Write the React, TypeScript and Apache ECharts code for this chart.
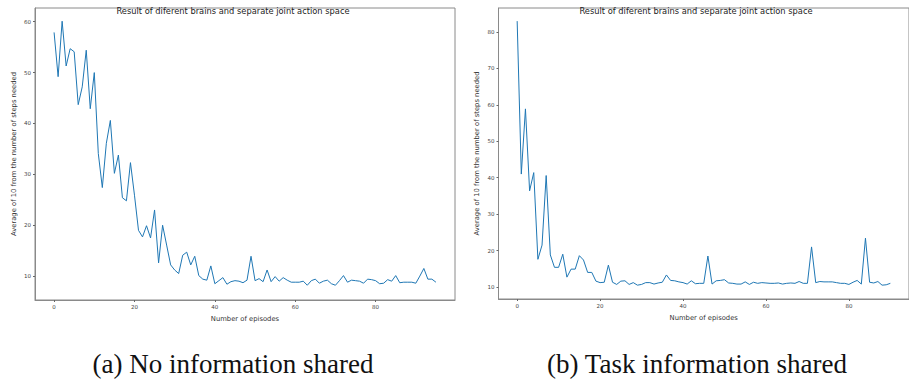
import React, { useEffect, useRef } from "react";
import * as echarts from "echarts";

const noInfoSteps = [
  57.9, 49.2, 60.1, 51.3, 54.7, 54.1, 43.7, 47.2, 54.4, 42.9,
  50.0, 34.1, 27.4, 36.1, 40.6, 30.2, 33.8, 25.4, 24.8, 32.3,
  25.9, 19.0, 17.7, 19.9, 17.5, 23.0, 12.6, 20.0, 16.1, 12.2,
  11.2, 10.5, 14.1, 14.7, 12.2, 13.9, 10.1, 9.4, 9.2, 12.0,
  8.5, 9.1, 9.7, 8.4, 8.9, 9.1, 9.0, 8.7, 9.2, 13.9,
  9.1, 9.5, 8.9, 11.2, 8.9, 9.9, 9.0, 9.7, 9.2, 8.8,
  8.8, 8.8, 9.0, 8.2, 9.1, 9.4, 8.6, 9.0, 9.2, 8.5,
  8.2, 9.1, 10.1, 8.8, 9.2, 9.1, 9.0, 8.6, 9.4, 9.3,
  9.1, 8.5, 8.6, 9.3, 9.0, 10.1, 8.7, 8.8, 8.8, 8.8,
  8.6, 10.0, 11.5, 9.4, 9.4, 8.8,
];

const taskInfoSteps = [
  83.0, 41.0, 58.9, 36.4, 41.4, 17.6, 21.5, 40.6, 18.8, 15.4,
  15.4, 19.0, 12.7, 14.9, 14.9, 18.6, 17.4, 14.0, 14.0, 11.6,
  11.2, 11.3, 16.0, 11.3, 10.7, 11.6, 11.7, 10.7, 11.2, 10.5,
  10.7, 11.2, 11.2, 10.8, 11.1, 11.3, 13.3, 11.8, 11.7, 11.4,
  11.2, 10.8, 11.7, 10.9, 11.0, 11.0, 18.5, 10.8, 11.7, 11.8,
  12.0, 11.1, 11.0, 10.8, 10.8, 11.4, 10.7, 11.3, 11.0, 11.2,
  11.1, 11.0, 11.0, 11.1, 10.8, 11.0, 11.1, 11.0, 11.5, 11.0,
  11.0, 21.0, 11.2, 11.5, 11.4, 11.4, 11.4, 11.2, 11.0, 11.0,
  10.7, 11.3, 11.8, 10.8, 23.4, 11.3, 11.1, 11.5, 10.5, 10.6,
  11.0,
];

const xTicks = [0, 20, 40, 60, 80];
const yTicksLeft = [10, 20, 30, 40, 50, 60];
const yTicksRight = [10, 20, 30, 40, 50, 60, 70, 80];
const chartTitle = "Result of diferent brains and separate joint action space";
const xName = "Number of episodes";
const yName = "Average of 10 from the number of steps needed";
const captions = ["(a) No information shared", "(b) Task information shared"];

const SPINE = "#8a8a8a";
const LINE = "#1f77b4";

function toPairs(values: number[]) {
  return values.map((v, i) => [i, v]);
}

function makeXAxis(gridIndex: number, min: number, max: number) {
  return {
    type: "value",
    gridIndex,
    min,
    max,
    name: xName,
    nameLocation: "middle",
    nameGap: 15,
    nameTextStyle: { fontSize: 6.8, color: "#333", fontFamily: "DejaVu Sans" },
    axisLine: { show: true, onZero: false, lineStyle: { color: SPINE, width: 1 } },
    axisTick: { show: true, length: 2, customValues: xTicks, lineStyle: { color: "#666" } },
    axisLabel: {
      show: true,
      customValues: xTicks,
      fontSize: 5.5,
      color: "#444",
      margin: 4,
      fontFamily: "DejaVu Sans",
    },
    splitLine: { show: false },
  };
}

function makeYAxis(gridIndex: number, min: number, max: number, ticks: number[]) {
  return {
    type: "value",
    gridIndex,
    min,
    max,
    name: yName,
    nameLocation: "middle",
    nameGap: 18,
    nameTextStyle: { fontSize: 6.8, color: "#333", fontFamily: "DejaVu Sans" },
    axisLine: { show: true, onZero: false, lineStyle: { color: SPINE, width: 1 } },
    axisTick: { show: true, length: 2, customValues: ticks, lineStyle: { color: "#666" } },
    axisLabel: {
      show: true,
      customValues: ticks,
      fontSize: 5.5,
      color: "#444",
      margin: 4,
      fontFamily: "DejaVu Sans",
    },
    splitLine: { show: false },
  };
}

export default function App() {
  const ref = useRef<HTMLDivElement>(null);

  useEffect(() => {
    if (!ref.current) return;
    const chart = echarts.init(ref.current, undefined, { renderer: "svg" });
    chart.setOption({
      animation: false,
      backgroundColor: "#ffffff",
      grid: [
        { left: 35, top: 8, width: 420, height: 292, show: true, borderColor: SPINE, borderWidth: 1, backgroundColor: "transparent" },
        { left: 498.5, top: 8, width: 419, height: 291, show: true, borderColor: SPINE, borderWidth: 1, backgroundColor: "transparent" },
      ],
      xAxis: [makeXAxis(0, -4.75, 99.75), makeXAxis(1, -4.5, 94.5)],
      yAxis: [makeYAxis(0, 5.3, 62.7, yTicksLeft), makeYAxis(1, 6.7, 86.6, yTicksRight)],
      series: [
        {
          type: "line",
          xAxisIndex: 0,
          yAxisIndex: 0,
          data: toPairs(noInfoSteps),
          symbol: "none",
          lineStyle: { color: LINE, width: 1 },
        },
        {
          type: "line",
          xAxisIndex: 1,
          yAxisIndex: 1,
          data: toPairs(taskInfoSteps),
          symbol: "none",
          lineStyle: { color: LINE, width: 1 },
        },
      ],
      graphic: [
        {
          type: "text",
          x: 233,
          y: 11,
          style: { text: chartTitle, fontSize: 8.3, fill: "#222", align: "center", verticalAlign: "middle", fontFamily: "DejaVu Sans" },
        },
        {
          type: "text",
          x: 696,
          y: 11,
          style: { text: chartTitle, fontSize: 8.3, fill: "#222", align: "center", verticalAlign: "middle", fontFamily: "DejaVu Sans" },
        },
        {
          type: "text",
          x: 233,
          y: 364,
          style: { text: captions[0], fontSize: 27, fill: "#111", align: "center", verticalAlign: "middle", fontFamily: "Liberation Serif" },
        },
        {
          type: "text",
          x: 697,
          y: 364,
          style: { text: captions[1], fontSize: 27, fill: "#111", align: "center", verticalAlign: "middle", fontFamily: "Liberation Serif" },
        },
      ],
    });
    return () => chart.dispose();
  }, []);

  return (
    <div
      ref={ref}
      style={{ position: "fixed", left: 0, top: 0, width: 909, height: 380, background: "#fff" }}
    />
  );
}
